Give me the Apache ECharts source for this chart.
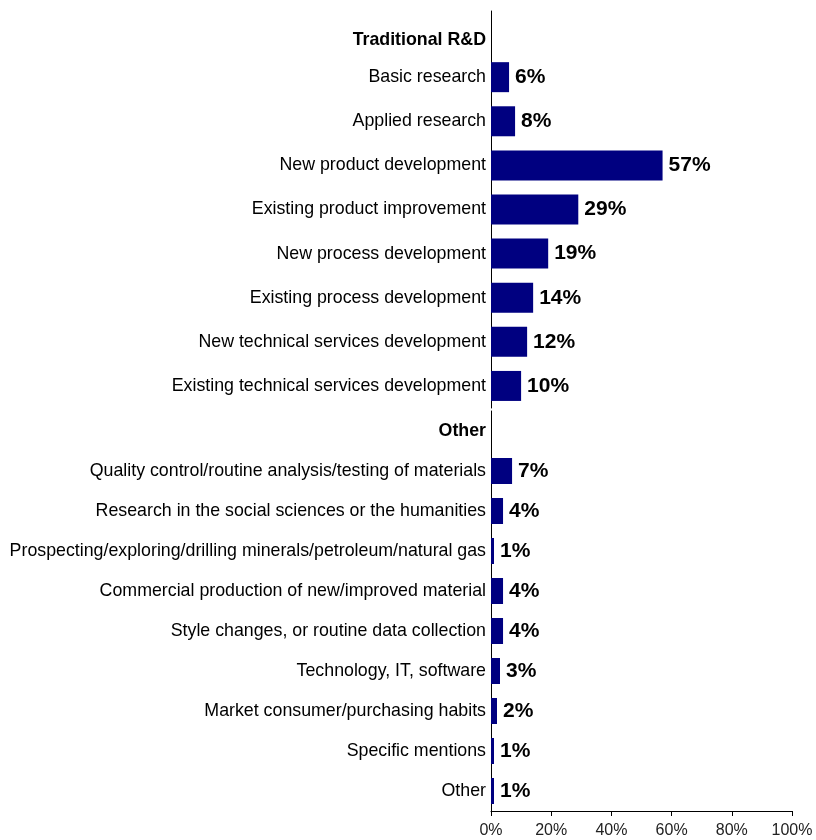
<!DOCTYPE html>
<html>
<head>
<meta charset="utf-8">
<script src="https://cdn.jsdelivr.net/npm/echarts@6/dist/echarts.min.js"></script>
<style>
  html, body { margin: 0; padding: 0; background: #fff; }
  #chart { width: 816px; height: 840px; }
</style>
</head>
<body>
<div id="chart"></div>
<script>
// Share of respondents by type of activity (percent)
const rdCategories = [
  'Traditional R&D',
  'Basic research',
  'Applied research',
  'New product development',
  'Existing product improvement',
  'New process development',
  'Existing process development',
  'New technical services development',
  'Existing technical services development'
];
const rdValues = [null, 6, 8, 57, 29, 19, 14, 12, 10];

const otherCategories = [
  'Other',
  'Quality control/routine analysis/testing of materials',
  'Research in the social sciences or the humanities',
  'Prospecting/exploring/drilling minerals/petroleum/natural gas',
  'Commercial production of new/improved material',
  'Style changes, or routine data collection',
  'Technology, IT, software',
  'Market consumer/purchasing habits',
  'Specific mentions',
  'Other'
];
const otherValues = [null, 7, 4, 1, 4, 4, 3, 2, 1, 1];

const xTicks = [0, 20, 40, 60, 80, 100];

const NAVY = '#000080';
const FONT = '"Liberation Sans", Arial, sans-serif';

function catAxisLabel(headerShift) {
  return {
    color: '#000',
    fontFamily: FONT,
    fontSize: 17.8,
    margin: 5,
    formatter: (v, i) => i === 0 ? '{h|' + v + '}' : v,
    rich: {
      h: {
        fontFamily: FONT,
        fontSize: 17.8,
        fontWeight: 'bold',
        color: '#000',
        padding: [headerShift, 0, 0, 0]
      }
    }
  };
}

function valueLabel() {
  return {
    show: true,
    position: 'right',
    distance: 6,
    formatter: '{c}%',
    color: '#000',
    fontFamily: FONT,
    fontWeight: 'bold',
    fontSize: 21
  };
}

const chart = echarts.init(document.getElementById('chart'));
chart.setOption({
  animation: false,
  grid: [
    { left: 491, width: 301, top: 11, height: 397, outerBoundsMode: 'none', containLabel: false },
    { left: 491, width: 301, top: 411, height: 400, outerBoundsMode: 'none', containLabel: false }
  ],
  xAxis: [
    {
      gridIndex: 0, type: 'value', min: 0, max: 100, interval: 20,
      show: false
    },
    {
      gridIndex: 1, type: 'value', min: 0, max: 100, interval: 20,
      splitLine: { show: false },
      axisLine: { show: true, lineStyle: { color: '#000', width: 1 } },
      axisTick: { show: true, inside: false, length: 5, lineStyle: { color: '#000' } },
      axisLabel: {
        color: '#222', fontFamily: FONT, fontSize: 16, margin: 12,
        formatter: v => xTicks.includes(v) ? v + '%' : ''
      }
    }
  ],
  yAxis: [
    {
      gridIndex: 0, type: 'category', data: rdCategories, inverse: true,
      axisLine: { show: true, lineStyle: { color: '#000', width: 1 } },
      axisTick: { show: false },
      axisLabel: catAxisLabel(14)
    },
    {
      gridIndex: 1, type: 'category', data: otherCategories, inverse: true,
      axisLine: { show: true, lineStyle: { color: '#000', width: 1 } },
      axisTick: { show: false },
      axisLabel: catAxisLabel(0)
    }
  ],
  series: [
    {
      type: 'bar', xAxisIndex: 0, yAxisIndex: 0, data: rdValues,
      barWidth: 30, itemStyle: { color: NAVY }, label: valueLabel()
    },
    {
      type: 'bar', xAxisIndex: 1, yAxisIndex: 1, data: otherValues,
      barWidth: 26, itemStyle: { color: NAVY }, label: valueLabel()
    }
  ]
});
</script>
</body>
</html>
